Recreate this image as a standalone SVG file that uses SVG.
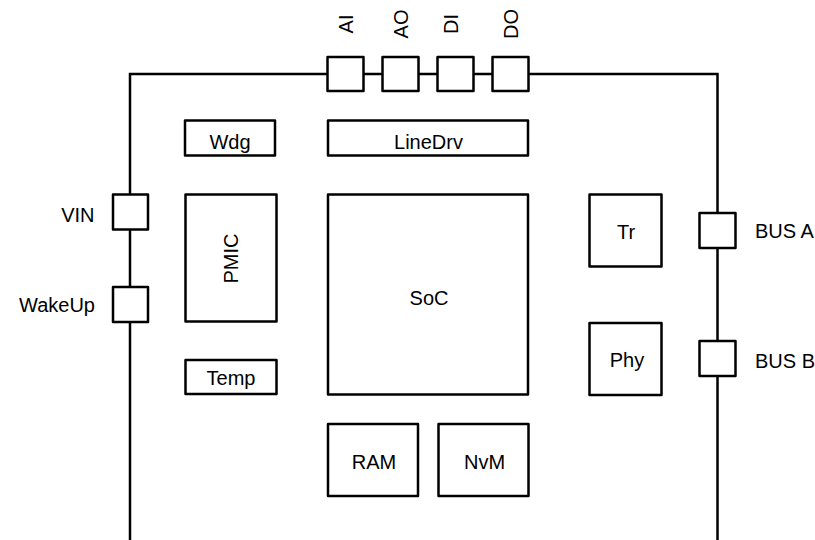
<svg xmlns="http://www.w3.org/2000/svg" width="815" height="540" viewBox="0 0 815 540">
<style>
.box{fill:#fff;stroke:#000;stroke-width:2.5;stroke-linejoin:round}
.wire{fill:none;stroke:#000;stroke-width:2.5;stroke-linejoin:miter}
text{font-family:"Liberation Sans",Arial,sans-serif;font-size:20px;fill:#000}
.c{text-anchor:middle}
.e{text-anchor:end}
</style>
<rect width="815" height="540" fill="#fff"/>
<g id="connectors">
<path class="wire" d="M130,540 V74 H717.5 V540"/>
</g>
<g id="pin-AI"><rect class="box" x="327.5" y="57" width="36" height="34"/><text class="c" transform="translate(353,24) rotate(-90)">AI</text></g>
<g id="pin-AO"><rect class="box" x="382.5" y="57" width="36" height="34"/><text class="c" transform="translate(408,24) rotate(-90)">AO</text></g>
<g id="pin-DI"><rect class="box" x="437.5" y="57" width="36" height="34"/><text class="c" transform="translate(458,24) rotate(-90)">DI</text></g>
<g id="pin-DO"><rect class="box" x="492.5" y="57" width="36" height="34"/><text class="c" transform="translate(518,24) rotate(-90)">DO</text></g>
<g id="pin-VIN"><rect class="box" x="113" y="194.5" width="35" height="35"/><text class="e" x="94.5" y="221.5">VIN</text></g>
<g id="pin-WakeUp"><rect class="box" x="113" y="287" width="35" height="35"/><text class="e" x="95" y="311.5">WakeUp</text></g>
<g id="pin-BUSA"><rect class="box" x="699.5" y="213" width="36" height="35"/><text x="755" y="238.3">BUS A</text></g>
<g id="pin-BUSB"><rect class="box" x="699.5" y="341" width="36" height="35"/><text x="755" y="368.3">BUS B</text></g>
<g id="Wdg"><rect class="box" x="185" y="120.5" width="90" height="35"/><text class="c" x="230" y="149.3">Wdg</text></g>
<g id="LineDrv"><rect class="box" x="328" y="120.5" width="200" height="35"/><text class="c" x="428.5" y="149.3">LineDrv</text></g>
<g id="PMIC"><rect class="box" x="185.5" y="194.5" width="91" height="127"/><text class="c" transform="translate(238,258.5) rotate(-90)">PMIC</text></g>
<g id="Temp"><rect class="box" x="185.5" y="360" width="91" height="34"/><text class="c" x="231" y="385">Temp</text></g>
<g id="SoC"><rect class="box" x="328" y="194.5" width="200" height="200"/><text class="c" x="429" y="305">SoC</text></g>
<g id="Tr"><rect class="box" x="589.5" y="194.5" width="72" height="72"/><text class="c" x="626" y="239.3">Tr</text></g>
<g id="Phy"><rect class="box" x="589.5" y="323" width="72" height="72"/><text class="c" x="627" y="366.7">Phy</text></g>
<g id="RAM"><rect class="box" x="328" y="424" width="90" height="72"/><text class="c" x="374" y="469">RAM</text></g>
<g id="NvM"><rect class="box" x="438.5" y="424" width="90" height="72"/><text class="c" x="484.5" y="469">NvM</text></g>
</svg>
